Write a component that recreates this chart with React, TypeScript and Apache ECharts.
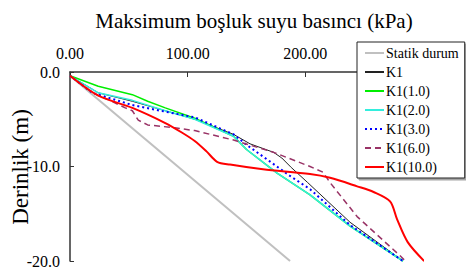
import React, { useEffect, useRef } from "react";
import * as echarts from "echarts";

const seriesNames = ["Statik durum", "K1", "K1(1.0)", "K1(2.0)", "K1(3.0)", "K1(6.0)", "K1(10.0)"];

const statikX = [0, 187];
const statikD = [-0.4, -20];

const k1X = [0, 24, 53, 81, 106, 139, 153, 173, 180, 188, 202, 238, 283];
const k1D = [-0.4, -2.2, -3.1, -4.1, -5.0, -6.6, -7.6, -8.5, -9.1, -10.1, -11.7, -15.9, -20];

const k1_1X = [0, 24, 53, 66, 81, 106, 139, 150, 176, 204, 238, 283];
const k1_1D = [-0.4, -1.5, -2.4, -3.1, -3.8, -4.9, -6.8, -8.2, -10.7, -13.0, -16.3, -20];

const k1_2X = [0, 24, 53, 81, 106, 139, 150, 176, 204, 238, 283];
const k1_2D = [-0.4, -2.2, -3.0, -4.1, -5.0, -6.8, -8.2, -10.7, -13.0, -16.3, -20];

const k1_3X = [0, 19, 53, 81, 106, 139, 150, 168, 187, 204, 238, 283];
const k1_3D = [-0.4, -2.2, -3.5, -4.2, -4.8, -6.6, -7.7, -9.3, -11.0, -12.4, -16.2, -20];

const k1_6X = [0, 19, 32, 47, 53, 58, 66, 89, 106, 139, 173, 204, 215, 221, 244, 281, 285];
const k1_6D = [-0.4, -2.2, -2.9, -3.8, -4.1, -5.1, -5.6, -5.9, -6.2, -7.2, -8.5, -10.0, -10.6, -11.7, -15.3, -19.5, -20];

const k1_10X = [0, 24, 53, 81, 95, 106, 116, 125, 136, 164, 204, 221, 244, 258, 272, 278, 287, 301];
const k1_10D = [-0.4, -2.5, -3.8, -5.4, -6.4, -7.3, -8.4, -9.5, -9.8, -10.3, -10.8, -11.2, -12.1, -12.7, -13.7, -15.6, -18.0, -20];

const xTicks = [0, 100, 200, 300];
const yTicks = [0, -10, -20];

const pairs = (xs: number[], ds: number[]) => xs.map((x, i) => [x, ds[i]]);

const FONT = "Liberation Serif";

export default function App() {
  const ref = useRef<HTMLDivElement>(null);
  useEffect(() => {
    if (!ref.current) return;
    const chart = echarts.init(ref.current, null, { renderer: "svg" });
    const styles = [
      { color: "#c0c0c0", width: 2, type: "solid" as const, data: pairs(statikX, statikD) },
      { color: "#222222", width: 1, type: "solid" as const, data: pairs(k1X, k1D) },
      { color: "#00ee00", width: 1.5, type: "solid" as const, data: pairs(k1_1X, k1_1D) },
      { color: "#33eedd", width: 1.5, type: "solid" as const, data: pairs(k1_2X, k1_2D) },
      { color: "#0000ff", width: 2, type: [2, 3] as any, data: pairs(k1_3X, k1_3D) },
      { color: "#993366", width: 1.5, type: [6, 4] as any, data: pairs(k1_6X, k1_6D) },
      { color: "#ff0000", width: 2, type: "solid" as const, data: pairs(k1_10X, k1_10D) },
    ];
    chart.setOption({
      animation: false,
      backgroundColor: "#ffffff",
      textStyle: { fontFamily: FONT },
      grid: { left: 70, top: 72, width: 353, height: 190, containLabel: false },
      xAxis: {
        type: "value",
        position: "top",
        min: xTicks[0],
        max: xTicks[xTicks.length - 1],
        interval: 100,
        axisLine: { show: true, onZero: false, lineStyle: { color: "#333", width: 1.5 } },
        axisTick: { show: true, inside: true, length: 5, lineStyle: { color: "#333" } },
        splitLine: { show: false },
        axisLabel: {
          margin: 11,
          fontSize: 16,
          color: "#000",
          fontFamily: FONT,
          showMaxLabel: false,
          formatter: (v: number) => v.toFixed(2),
        },
      },
      yAxis: {
        type: "value",
        min: yTicks[yTicks.length - 1],
        max: yTicks[0],
        interval: 10,
        axisLine: { show: true, onZero: false, lineStyle: { color: "#333", width: 1.5 } },
        axisTick: { show: true, inside: true, length: 4, lineStyle: { color: "#333" } },
        splitLine: { show: false },
        axisLabel: {
          margin: 10,
          fontSize: 16,
          color: "#000",
          fontFamily: FONT,
          formatter: (v: number) => v.toFixed(1),
        },
      },
      legend: {
        orient: "vertical",
        left: 357,
        top: 42,
        width: 107,
        padding: [4, 6, 4, 7],
        itemGap: 5,
        itemWidth: 19,
        itemHeight: 14,
        backgroundColor: "#ffffff",
        borderColor: "#222",
        borderWidth: 1,
        shadowColor: "rgba(0,0,0,0.35)",
        shadowOffsetX: 2,
        shadowOffsetY: 2,
        shadowBlur: 0,
        itemStyle: { opacity: 0 },
        textStyle: { fontFamily: FONT, fontSize: 14, color: "#000", padding: [0, 0, 0, -3] },
        data: seriesNames,
        z: 10,
      },
      graphic: [
        {
          type: "text",
          x: 254,
          y: 21,
          style: {
            text: "Maksimum boşluk suyu basıncı (kPa)",
            fontFamily: FONT,
            fontSize: 21,
            fill: "#000",
            textAlign: "center",
            textVerticalAlign: "middle",
          },
        },
        {
          type: "text",
          x: 20,
          y: 167,
          rotation: Math.PI / 2,
          style: {
            text: "Derinlik (m)",
            fontFamily: FONT,
            fontSize: 23,
            fill: "#000",
            textAlign: "center",
            textVerticalAlign: "middle",
          },
        },
      ],
      series: styles.map((s, i) => ({
        name: seriesNames[i],
        type: "line",
        data: s.data,
        showSymbol: false,
        symbol: "none",
        smooth: i === 6 ? 0.3 : false,
        clip: false,
        lineStyle: { color: s.color, width: s.width, type: s.type },
        itemStyle: { color: s.color },
        z: 2 + i,
      })),
    });
    return () => chart.dispose();
  }, []);
  return (
    <div
      ref={ref}
      style={{ position: "fixed", left: 0, top: 0, width: 466, height: 269 }}
    />
  );
}
